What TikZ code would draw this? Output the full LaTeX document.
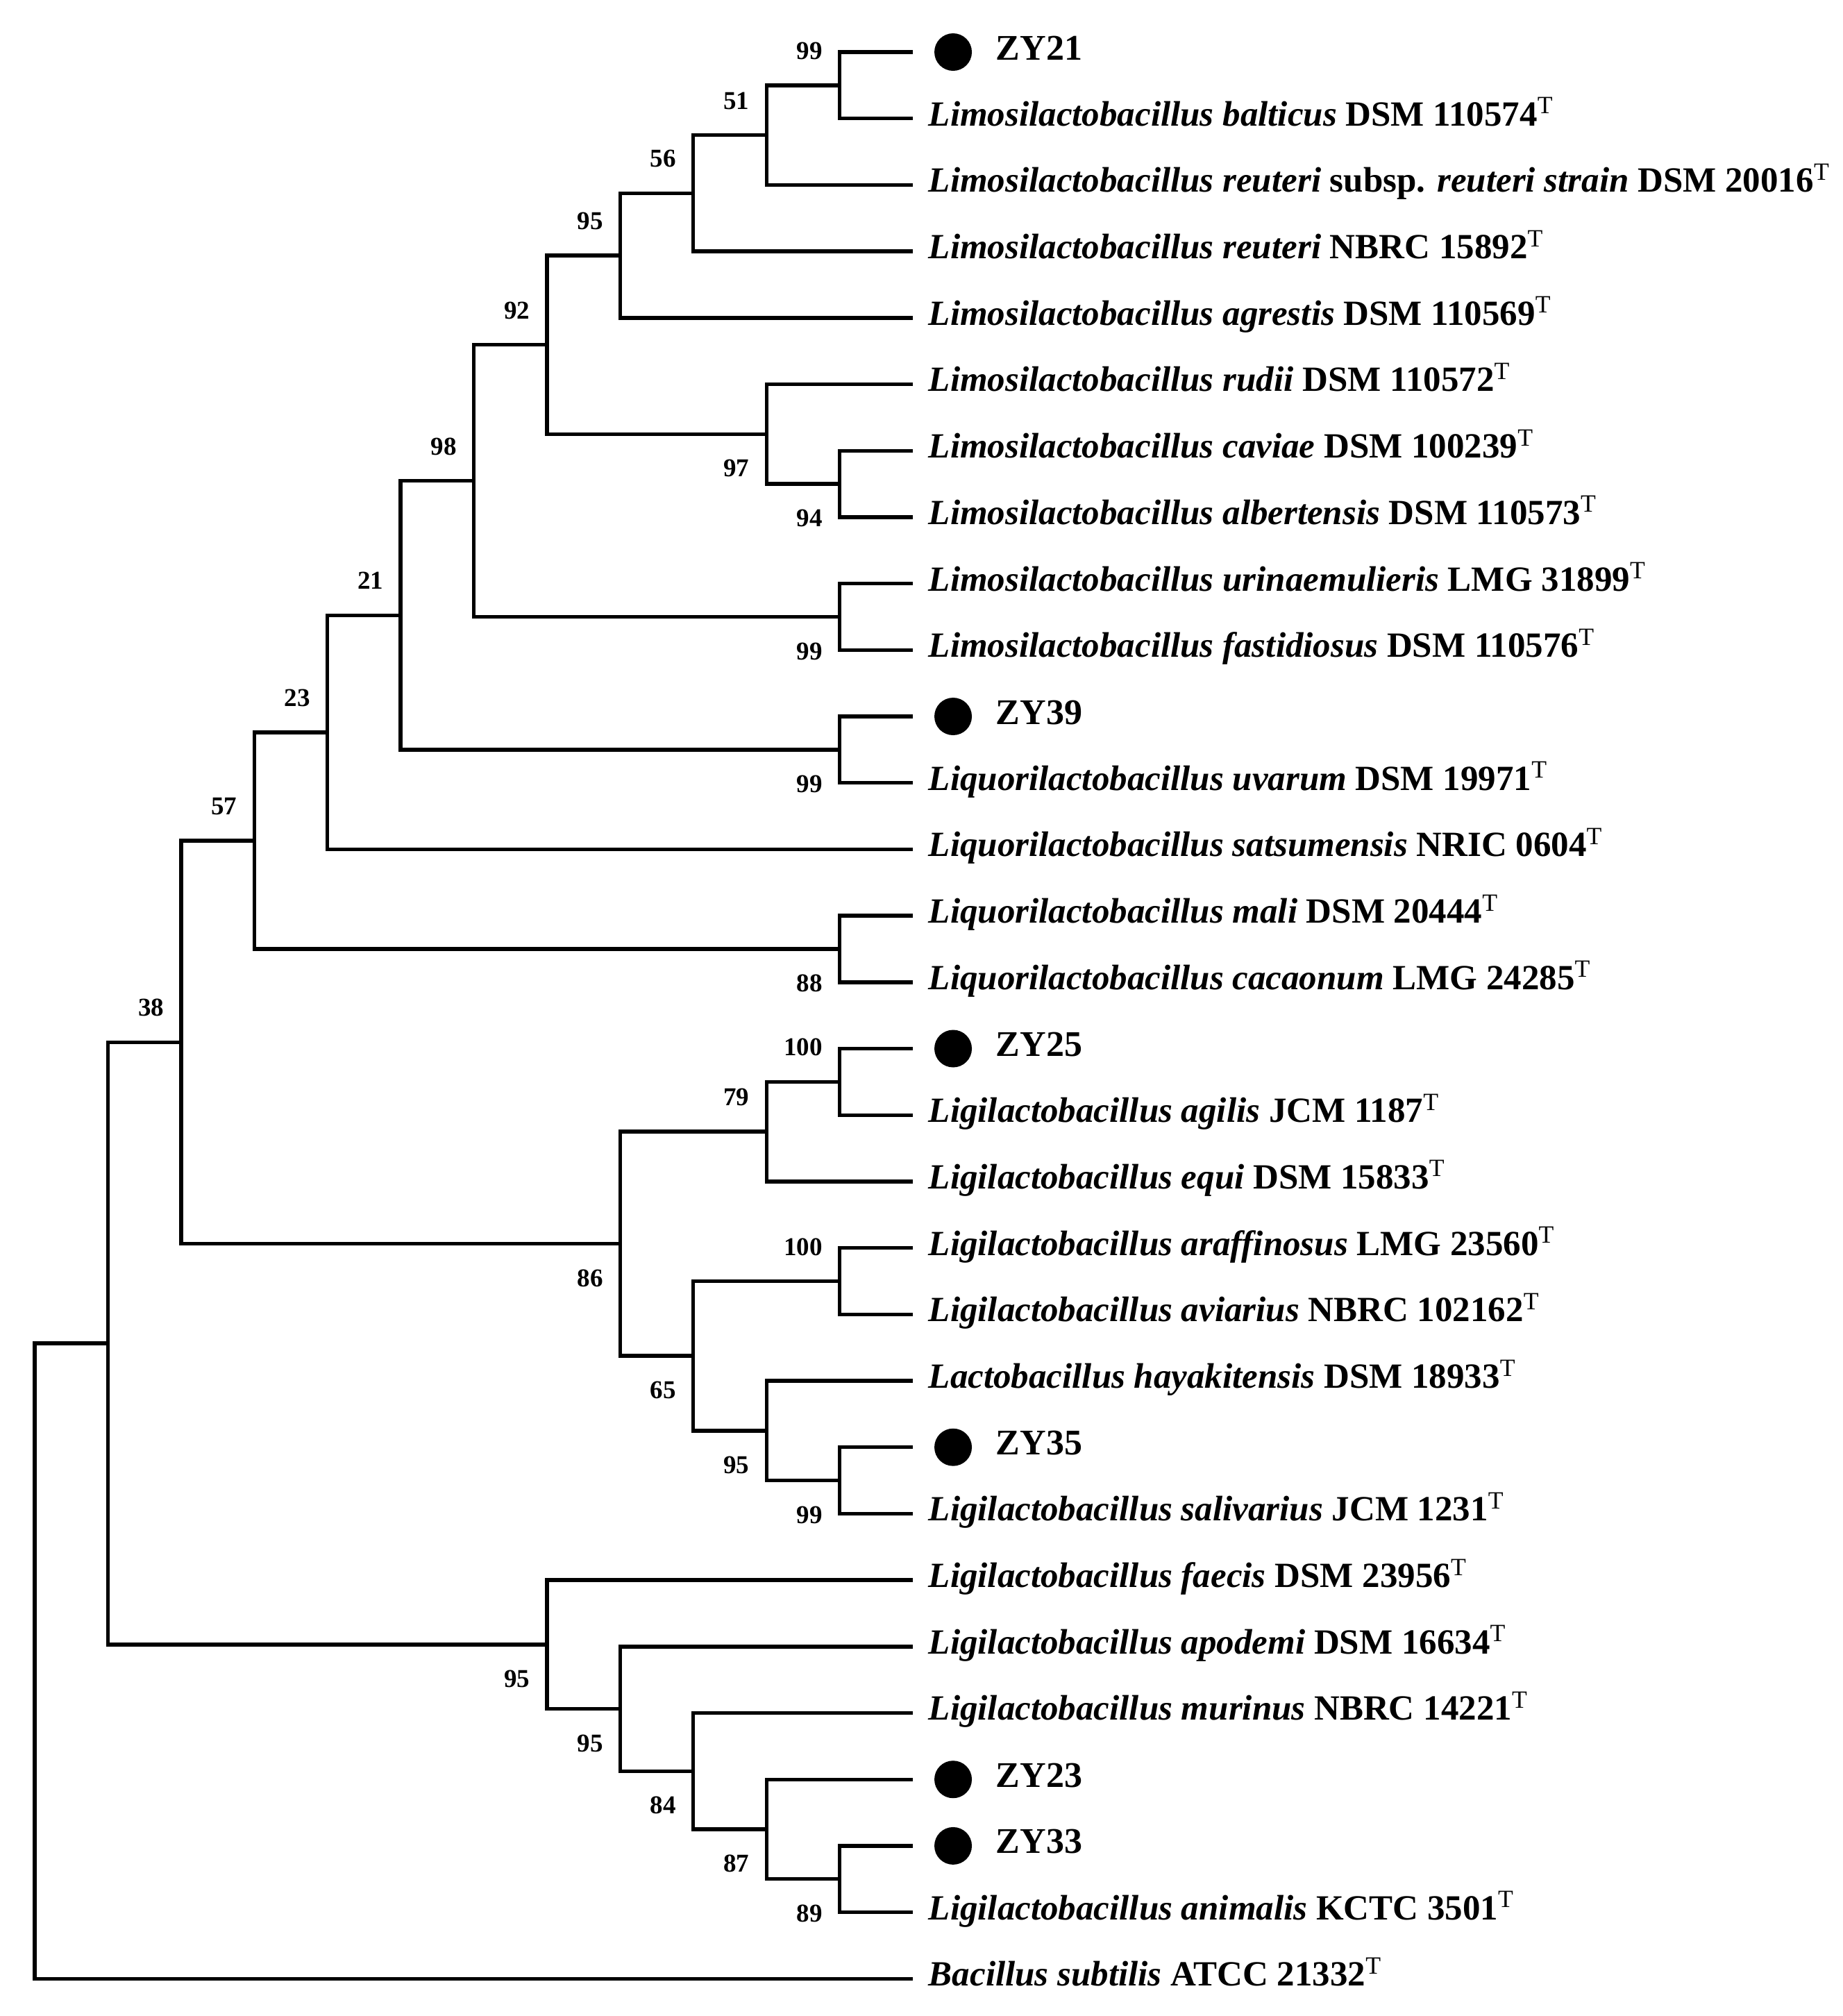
\documentclass[tikz,border=0pt]{standalone}
\usepackage{fontspec}
\setmainfont{Liberation Serif}
\newcommand\spn[1]{\textit{#1}}
\newcommand\typ{\textsuperscript{\mdseries\upshape T}}
\begin{document}
\begin{tikzpicture}[x=26.355pt, y=-23.925pt,
  br/.style={line width=1.35pt, line join=miter},
  lab/.style={inner sep=0pt, font=\fontsize{9.25}{11}\selectfont\bfseries, anchor=east},
  bsup/.style={lab, xshift=-6pt, yshift=12.4pt},
  bsdn/.style={lab, xshift=-6pt, yshift=-12.4pt},
  taxon/.style={inner sep=0pt, anchor=base west, xshift=5.5pt, yshift=-2.6pt, font=\fontsize{12.75}{15}\selectfont\bfseries},
  iso/.style={inner sep=0pt, anchor=base west, xshift=29.75pt, yshift=-2.75pt, font=\fontsize{13}{15}\selectfont\bfseries},
  dot/.style={circle, fill, inner sep=0pt, minimum size=13.5pt, xshift=14.5pt}]
\useasboundingbox (-0.47429,-0.78370) rectangle (24.7107,29.5611);
% leaves
\foreach \i in {0,...,29} \coordinate (l\i) at (12,\i);
% internal nodes
\coordinate (A) at (11,0.5);
\coordinate (B) at (10,1.25);
\coordinate (C) at (9,2.125);
\coordinate (D) at (8,3.0625);
\coordinate (E) at (11,6.5);
\coordinate (F) at (10,5.75);
\coordinate (G) at (7,4.40625);
\coordinate (H) at (11,8.5);
\coordinate (I) at (6,6.453125);
\coordinate (J) at (11,10.5);
\coordinate (K) at (5,8.4765625);
\coordinate (L) at (4,10.23828);
\coordinate (M) at (11,13.5);
\coordinate (N) at (3,11.86914);
\coordinate (V) at (11,15.5);
\coordinate (T) at (10,16.25);
\coordinate (W) at (11,18.5);
\coordinate (Y) at (11,21.5);
\coordinate (X) at (10,20.75);
\coordinate (U) at (9,19.625);
\coordinate (S) at (8,17.9375);
\coordinate (P) at (2,14.90332);
\coordinate (AC) at (11,27.5);
\coordinate (AB) at (10,26.75);
\coordinate (AA) at (9,25.875);
\coordinate (Z) at (8,24.9375);
\coordinate (R) at (7,23.96875);
\coordinate (Q) at (1,19.43604);
\coordinate (O) at (0,24.21802);
% branches
\foreach \n/\a/\b in {A/l0/l1, B/A/l2, C/B/l3, D/C/l4, E/l6/l7, F/l5/E, G/D/F,
  H/l8/l9, I/G/H, J/l10/l11, K/I/J, L/K/l12, M/l13/l14, N/L/M,
  V/l15/l16, T/V/l17, W/l18/l19, Y/l21/l22, X/l20/Y, U/W/X, S/T/U, P/N/S,
  AC/l27/l28, AB/l26/AC, AA/l25/AB, Z/l24/AA, R/l23/Z, Q/P/R, O/Q/l29}
  \draw[br] (\a) -| (\n) |- (\b);
% bootstrap values
\foreach \n/\v in {A/99, B/51, C/56, D/95, G/92, I/98, K/21, L/23, N/57, P/38, V/100, T/79, W/100}
  \node[bsup] (bs\n) at (\n) {\v};
\foreach \n/\v in {E/94, F/97, H/99, J/99, M/88, S/86, U/65, X/95, Y/99, R/95, Z/95, AA/84, AB/87, AC/89}
  \node[bsdn] (bs\n) at (\n) {\v};
% isolates
\foreach \i/\t in {0/ZY21, 10/ZY39, 15/ZY25, 21/ZY35, 26/ZY23, 27/ZY33} {
  \node[dot] (d\i) at (l\i) {};
  \node[iso] (t\i) at (l\i) {\t};
}
% taxa
\node[taxon] (t1) at (l1) {\spn{Limosilactobacillus balticus} DSM 110574\typ};
\node[taxon] (t2) at (l2) {\spn{Limosilactobacillus reuteri} subsp. \spn{reuteri strain} DSM 20016\typ};
\node[taxon] (t3) at (l3) {\spn{Limosilactobacillus reuteri} NBRC 15892\typ};
\node[taxon] (t4) at (l4) {\spn{Limosilactobacillus agrestis} DSM 110569\typ};
\node[taxon] (t5) at (l5) {\spn{Limosilactobacillus rudii} DSM 110572\typ};
\node[taxon] (t6) at (l6) {\spn{Limosilactobacillus caviae} DSM 100239\typ};
\node[taxon] (t7) at (l7) {\spn{Limosilactobacillus albertensis} DSM 110573\typ};
\node[taxon] (t8) at (l8) {\spn{Limosilactobacillus urinaemulieris} LMG 31899\typ};
\node[taxon] (t9) at (l9) {\spn{Limosilactobacillus fastidiosus} DSM 110576\typ};
\node[taxon] (t11) at (l11) {\spn{Liquorilactobacillus uvarum} DSM 19971\typ};
\node[taxon] (t12) at (l12) {\spn{Liquorilactobacillus satsumensis} NRIC 0604\typ};
\node[taxon] (t13) at (l13) {\spn{Liquorilactobacillus mali} DSM 20444\typ};
\node[taxon] (t14) at (l14) {\spn{Liquorilactobacillus cacaonum} LMG 24285\typ};
\node[taxon] (t16) at (l16) {\spn{Ligilactobacillus agilis} JCM 1187\typ};
\node[taxon] (t17) at (l17) {\spn{Ligilactobacillus equi} DSM 15833\typ};
\node[taxon] (t18) at (l18) {\spn{Ligilactobacillus araffinosus} LMG 23560\typ};
\node[taxon] (t19) at (l19) {\spn{Ligilactobacillus aviarius} NBRC 102162\typ};
\node[taxon] (t20) at (l20) {\spn{Lactobacillus hayakitensis} DSM 18933\typ};
\node[taxon] (t22) at (l22) {\spn{Ligilactobacillus salivarius} JCM 1231\typ};
\node[taxon] (t23) at (l23) {\spn{Ligilactobacillus faecis} DSM 23956\typ};
\node[taxon] (t24) at (l24) {\spn{Ligilactobacillus apodemi} DSM 16634\typ};
\node[taxon] (t25) at (l25) {\spn{Ligilactobacillus murinus} NBRC 14221\typ};
\node[taxon] (t28) at (l28) {\spn{Ligilactobacillus animalis} KCTC 3501\typ};
\node[taxon] (t29) at (l29) {\spn{Bacillus subtilis} ATCC 21332\typ};
\end{tikzpicture}
\end{document}
